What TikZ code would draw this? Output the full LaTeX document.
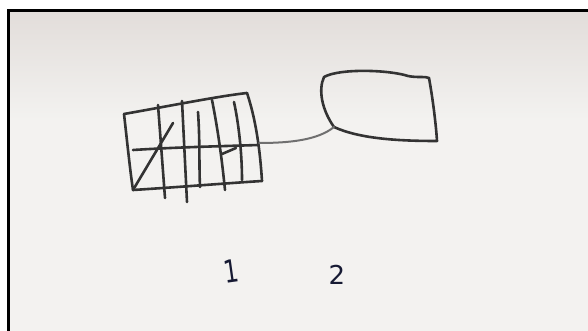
\documentclass[tikz,border=0pt]{standalone}
\usepackage{fontspec}
\setmainfont{DejaVu Sans}
\definecolor{ink}{HTML}{333333}
\definecolor{pen}{HTML}{161A33}
\definecolor{paperA}{HTML}{E2DDDA}
\definecolor{paperB}{HTML}{F3F2F0}
\begin{document}
\begin{tikzpicture}[x=1pt,y=-1pt,
  sketch/.style={draw=ink,line width=2.6pt,line cap=round,line join=round},
  thin/.style={draw=ink!70,line width=2pt,line cap=round},
  lbl/.style={text=pen,font=\fontsize{26}{28}\selectfont,inner sep=0pt}]
\useasboundingbox (0,0) rectangle (588,331);
\fill[white] (0,0) rectangle (588,331);
\shade[top color=paperA,bottom color=paperB] (8,11) rectangle (588,120);
\fill[paperB] (8,119.5) rectangle (588,331);
\draw[black,line width=3pt] (8,331) -- (8,11) -- (588,11);
% box 1 (grid)
\draw[sketch] (124,114) .. controls (180,104) and (220,96) .. (247,93);
\draw[sketch] (124,114) .. controls (127,140) and (130,170) .. (133,190);
\draw[sketch] (133,190) .. controls (180,187) and (230,183) .. (262,181);
\draw[sketch] (247,93) .. controls (256,120) and (260,150) .. (262,181);
\draw[sketch] (158,105) -- (165,198);
\draw[sketch] (182,101) -- (187,202);
\draw[sketch] (198,112) .. controls (200,140) and (199,165) .. (200,187);
\draw[sketch] (212,100) .. controls (218,130) and (222,160) .. (225,190);
\draw[sketch] (234,102) .. controls (240,130) and (242,160) .. (242,180);
\draw[sketch] (173,123) -- (133,190);
\draw[sketch] (133,150) .. controls (180,147) and (230,146) .. (258,145);
\draw[sketch] (222,154) -- (236,148);
% box 2
\draw[sketch] (334,127) .. controls (322,110) and (318,90) .. (324,77)
  .. controls (340,68) and (390,70) .. (408,76)
  .. controls (418,78) and (425,76) .. (429,78)
  .. controls (433,100) and (436,125) .. (437,141)
  .. controls (400,141) and (360,139) .. (334,127);
% connector
\coordinate (a) at (259,143);
\coordinate (b) at (334,127);
\draw[thin] (a) .. controls (290,143) and (318,140) .. (b);
% labels
\node[lbl] (one) at (231,271) {\rotatebox{8}{\scalebox{0.9}[1.2]{1}}};
\node[lbl] (two) at (337,275) {2};
\end{tikzpicture}
\end{document}
